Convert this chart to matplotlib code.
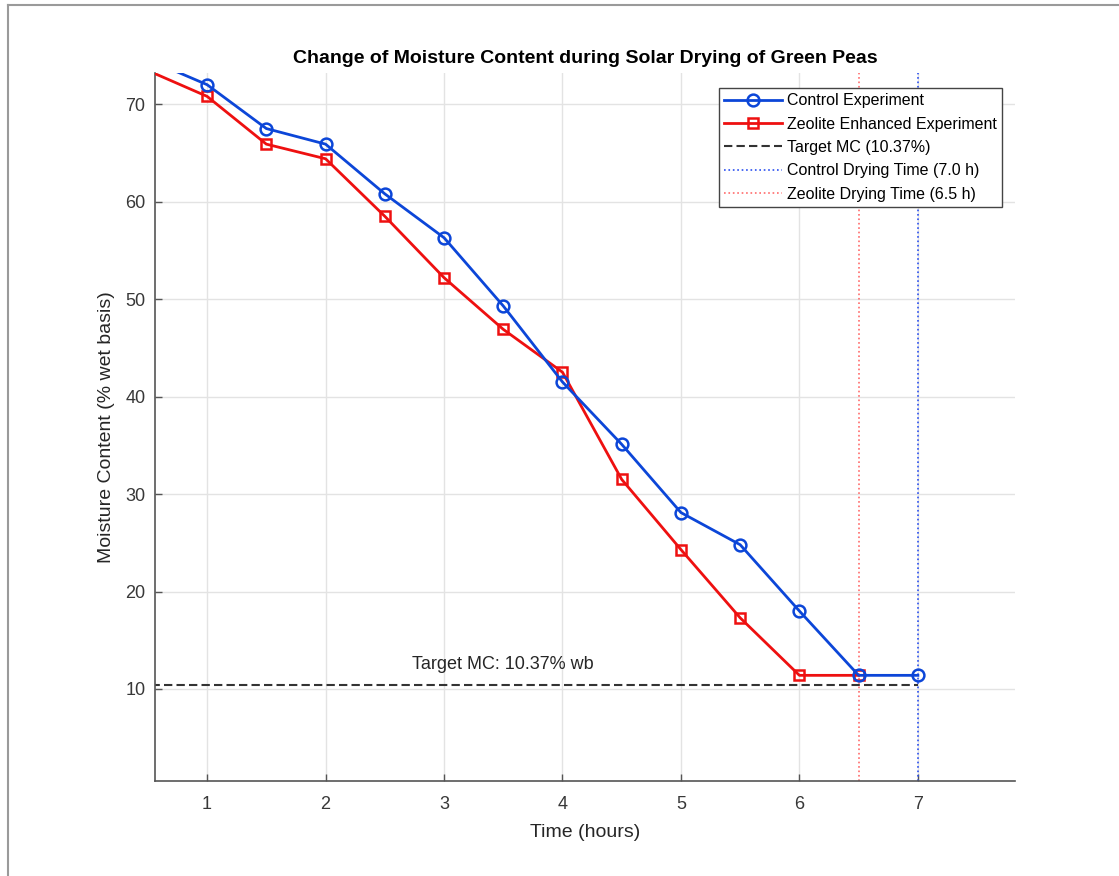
import matplotlib
matplotlib.use("Agg")
import matplotlib.pyplot as plt
from matplotlib.lines import Line2D

plt.rcParams['font.family'] = ['Liberation Sans', 'DejaVu Sans']

# drying data (time in hours, moisture content % wet basis)
time_h = [0, 1, 1.5, 2, 2.5, 3, 3.5, 4, 4.5, 5, 5.5, 6, 6.5, 7]
control_mc = [77.2, 72.0, 67.5, 65.9, 60.8, 56.3, 49.3, 41.5, 35.1, 28.1, 24.8, 18.0, 11.4, 11.4]
zeo_time_h = [0, 1, 1.5, 2, 2.5, 3, 3.5, 4, 4.5, 5, 5.5, 6, 6.5]
zeolite_mc = [76.1, 70.8, 65.9, 64.4, 58.5, 52.2, 46.9, 42.5, 31.5, 24.3, 17.3, 11.4, 11.4]

target_mc = 10.37
control_time = 7.0
zeolite_time = 6.5
x_ticks = [1, 2, 3, 4, 5, 6, 7]
y_ticks = [10, 20, 30, 40, 50, 60, 70]

fig = plt.figure(figsize=(11.19, 8.76), dpi=100)
ax = fig.add_axes([155 / 1119, 1 - 781 / 876, 860 / 1119, 708 / 876])

blue = '#0c46d8'
red = '#ee1010'

ax.plot(time_h, control_mc, '-o', color=blue, lw=2.0, ms=8.5, mfc='none',
        mew=1.8, label='Control Experiment', zorder=4)
ax.plot(zeo_time_h, zeolite_mc, '-s', color=red, lw=2.0, ms=7, mfc='none',
        mew=1.8, label='Zeolite Enhanced Experiment', zorder=3)
ax.plot([0, control_time], [target_mc, target_mc], '--', color='#333333', lw=1.5,
        dashes=(4, 2), label='Target MC (10.37%)', zorder=2)
ax.axvline(control_time, color='#2a4ff0', ls=':', lw=1.2,
           label='Control Drying Time (7.0 h)', zorder=2)
ax.axvline(zeolite_time, color='#ff6b6b', ls=':', lw=1.2,
           label='Zeolite Drying Time (6.5 h)', zorder=2)

ax.text(3.5, target_mc + 2.1, 'Target MC: 10.37% wb', ha='center', va='center',
        fontsize=13, color='#262626')

ax.set_xlim(0.56, 7.82)
ax.set_ylim(0.56, 73.2)
ax.set_xticks(x_ticks)
ax.set_yticks(y_ticks)
ax.grid(True, color='#e3e3e3', lw=1.0)
ax.set_axisbelow(True)

for side in ['top', 'right']:
    ax.spines[side].set_visible(False)
for side in ['left', 'bottom']:
    ax.spines[side].set_color('#555555')
    ax.spines[side].set_linewidth(1.2)
ax.tick_params(direction='in', length=5, width=1, colors='#555555',
               labelcolor='#383838', labelsize=13)
ax.tick_params(axis='x', pad=11)
ax.tick_params(axis='y', pad=7)

ax.set_xlabel('Time (hours)', fontsize=14, color='#262626', labelpad=8)
ax.set_ylabel('Moisture Content (% wet basis)', fontsize=14, color='#262626', labelpad=7)
ax.set_title('Change of Moisture Content during Solar Drying of Green Peas',
             fontsize=14, fontweight='bold', pad=7)

leg = ax.legend(loc='upper right', bbox_to_anchor=(0.985, 0.979), fontsize=11.5,
                handlelength=3.6, fancybox=False, framealpha=1, edgecolor='#444444',
                borderpad=0.35, labelspacing=0.52, handletextpad=0.3, borderaxespad=0)
leg.get_frame().set_linewidth(1.0)

# screenshot frame lines
fig.add_artist(Line2D([8 / 1119, 1], [1 - 5 / 876, 1 - 5 / 876], color='#9a9a9a', lw=1.5))
fig.add_artist(Line2D([8 / 1119, 8 / 1119], [0, 1 - 5 / 876], color='#9a9a9a', lw=1.5))

fig.savefig('out.png', dpi=100)
